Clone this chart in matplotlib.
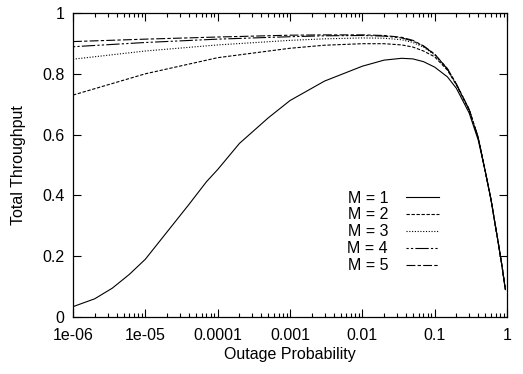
import matplotlib
matplotlib.use("Agg")
import matplotlib.pyplot as plt
from matplotlib.ticker import FixedLocator, LogLocator, NullFormatter

plt.rcParams["font.family"] = ["Liberation Sans", "DejaVu Sans"]

# outage probability grid (M = 1 has a denser read-off)
x_m1 = [1e-6, 2e-6, 3.5e-6, 6e-6, 1e-5, 2e-5, 4e-5, 7e-5, 1e-4, 2e-4, 5e-4,
        1e-3, 3e-3, 1e-2, 2e-2, 3.5e-2, 5e-2, 7e-2, 0.1, 0.15, 0.2, 0.3,
        0.4, 0.5, 0.6, 0.75, 0.85, 0.95]
tp_m1 = [0.034, 0.06, 0.095, 0.14, 0.19, 0.28, 0.37, 0.445, 0.485, 0.571,
         0.655, 0.712, 0.776, 0.825, 0.845, 0.851, 0.849, 0.84, 0.822, 0.79,
         0.752, 0.671, 0.582, 0.48, 0.387, 0.25, 0.17, 0.09]

x_multi = [1e-6, 1e-5, 1e-4, 1e-3, 3e-3, 1e-2, 2e-2, 3.5e-2, 5e-2, 7e-2, 0.1,
           0.15, 0.2, 0.3, 0.4, 0.5, 0.6, 0.75, 0.85, 0.95]
tp_m2 = [0.73, 0.80, 0.853, 0.884, 0.894, 0.899, 0.899, 0.895, 0.888, 0.875,
         0.856, 0.812, 0.763, 0.68, 0.59, 0.48, 0.387, 0.25, 0.17, 0.09]
tp_m3 = [0.848, 0.875, 0.895, 0.910, 0.915, 0.918, 0.917, 0.912, 0.903, 0.888,
         0.862, 0.815, 0.765, 0.682, 0.59, 0.48, 0.387, 0.25, 0.17, 0.09]
tp_m4 = [0.889, 0.903, 0.914, 0.922, 0.925, 0.926, 0.924, 0.918, 0.908, 0.891,
         0.864, 0.816, 0.765, 0.682, 0.59, 0.48, 0.387, 0.25, 0.17, 0.09]
tp_m5 = [0.906, 0.914, 0.921, 0.927, 0.928, 0.928, 0.926, 0.92, 0.91, 0.892,
         0.865, 0.817, 0.766, 0.683, 0.59, 0.48, 0.387, 0.25, 0.17, 0.09]

x_ticks = [1e-6, 1e-5, 1e-4, 1e-3, 1e-2, 1e-1, 1.0]
x_tick_labels = ["1e-06", "1e-05", "0.0001", "0.001", "0.01", "0.1", "1"]
y_ticks = [0, 0.2, 0.4, 0.6, 0.8, 1.0]
y_tick_labels = ["0", "0.2", "0.4", "0.6", "0.8", "1"]

fig = plt.figure(figsize=(5.23, 3.74), dpi=100)
ax = fig.add_axes([73 / 523, 1 - 317 / 374, 434 / 523, 304 / 374])

lw = 0.8
ax.plot(x_m1, tp_m1, color="black", lw=lw, ls="-", label="M = 1")
ax.plot(x_multi, tp_m2, color="black", lw=lw, ls=(0, (3, 1.5)), label="M = 2")
ax.plot(x_multi, tp_m3, color="black", lw=lw, ls=(0, (1, 1.5)), label="M = 3")
ax.plot(x_multi, tp_m4, color="black", lw=lw, ls=(0, (2, 2, 2, 2, 12, 2)), label="M = 4")
ax.plot(x_multi, tp_m5, color="black", lw=lw, ls=(0, (8, 2, 3, 2)), label="M = 5")

ax.set_xscale("log")
ax.set_xlim(1e-6, 1.0)
ax.set_ylim(0, 1)
ax.xaxis.set_major_locator(FixedLocator(x_ticks))
ax.set_xticklabels(x_tick_labels)
ax.xaxis.set_minor_locator(LogLocator(base=10, subs=(2, 3, 4, 5, 6, 7, 8, 9), numticks=20))
ax.xaxis.set_minor_formatter(NullFormatter())
ax.set_yticks(y_ticks)
ax.set_yticklabels(y_tick_labels)

ax.tick_params(which="both", direction="in", top=True, right=True,
               labelsize=11.5, width=0.8)
ax.tick_params(axis="x", which="major", pad=8)
ax.tick_params(axis="y", which="major", pad=6)
ax.tick_params(which="major", length=6)
ax.tick_params(which="minor", length=3)
for s in ax.spines.values():
    s.set_linewidth(0.9)

ax.set_xlabel("Outage Probability", fontsize=11.5, labelpad=3)
ax.set_ylabel("Total Throughput", fontsize=11.5, labelpad=12)

ax.legend(loc="center", bbox_to_anchor=(0.738, 0.28), frameon=False,
          markerfirst=False, fontsize=11.5, handlelength=2.1,
          handletextpad=1.1, labelspacing=0.12, borderpad=0)

fig.savefig("out.png", dpi=100)
